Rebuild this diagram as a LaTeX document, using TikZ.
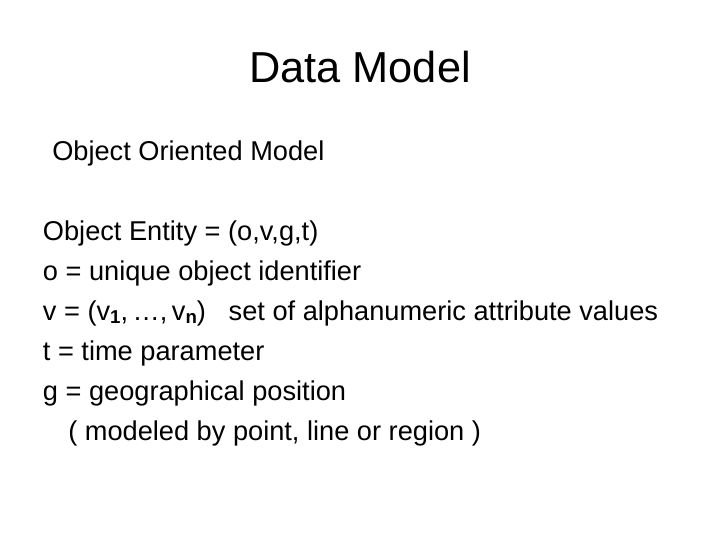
\documentclass[tikz,border=0pt]{standalone}
\usepackage{fontspec}
\setmainfont{Liberation Sans}
\newcommand{\subb}[1]{\raisebox{-0.25ex}{\fontsize{14}{14}\selectfont\bfseries #1}}
\begin{document}
\begin{tikzpicture}[x=1pt,y=-1pt,txt/.style={anchor=base west,inner sep=0pt,font=\fontsize{20.4}{22}\selectfont}]
\useasboundingbox (0,0) rectangle (540,405);
\node[anchor=base,inner sep=0pt,font=\fontsize{32.5}{36}\selectfont] (title) at (270,62) {Data Model};
\node[txt] (sub) at (39,120) {Object Oriented Model};
\node[txt] (l1) at (32,180) {Object Entity = (o,v,g,t)};
\node[txt] (l2) at (32,210) {o = unique object identifier};
\node[txt] (l3) at (32,240) {v = (v\subb{1},\,…,\,v\subb{n})\ \ \ set of alphanumeric attribute values};
\node[txt] (l4) at (32,270) {t = time parameter};
\node[txt] (l5) at (32,300) {g = geographical position};
\node[txt] (l6) at (51,330) {( modeled by point, line or region )};
\end{tikzpicture}
\end{document}
